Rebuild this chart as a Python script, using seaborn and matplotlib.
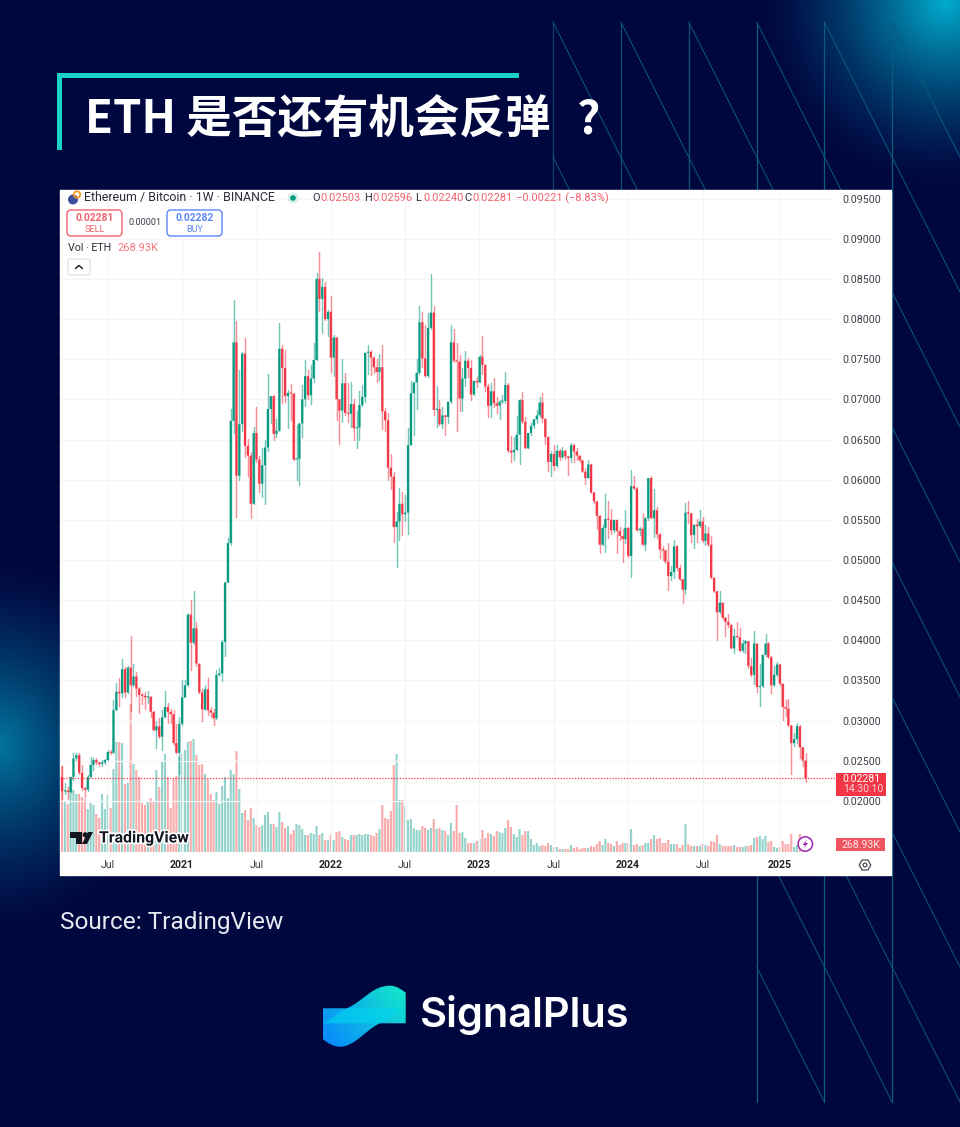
import numpy as np
import pandas as pd
import matplotlib
matplotlib.use("Agg")
import matplotlib.pyplot as plt
import matplotlib.patheffects as pe
from matplotlib.patches import Circle, FancyBboxPatch, PathPatch, Polygon, Rectangle
from matplotlib.path import Path
import seaborn as sns

# weekly ETH/BTC candles, in thousandths of a BTC
first_open = 23.0
closes = [
    21.2, 21.3, 21.1, 23.0, 25.3, 25.7, 23.5, 21.6, 21.4, 23.0,
    24.5, 25.1, 24.8, 24.6, 24.8, 25.1, 26.1, 26.0, 31.3, 33.6,
    33.4, 36.4, 33.5, 36.6, 34.4, 35.5, 34.0, 33.2, 33.1, 32.9,
    33.0, 31.1, 28.8, 29.3, 28.0, 30.4, 31.7, 31.1, 30.8, 27.2,
    26.0, 29.6, 32.9, 34.4, 43.2, 39.7, 41.5, 37.1, 33.5, 31.4,
    33.9, 31.3, 31.0, 30.3, 35.7, 35.9, 39.8, 47.2, 52.1, 67.3,
    77.1, 60.5, 66.9, 75.7, 64.2, 63.0, 57.0, 65.8, 62.5, 59.5,
    61.8, 64.0, 68.8, 70.4, 65.7, 66.1, 76.3, 73.9, 70.4, 70.8,
    70.7, 62.5, 62.6, 67.0, 70.0, 72.9, 70.5, 72.6, 74.9, 85.0,
    82.5, 84.0, 80.0, 80.9, 75.2, 77.7, 70.0, 68.6, 72.0, 68.3,
    68.2, 69.4, 66.4, 66.5, 69.3, 70.3, 75.8, 75.9, 75.2, 74.0,
    73.4, 74.0, 68.5, 67.4, 61.5, 60.4, 54.1, 54.8, 57.0, 55.7,
    55.9, 64.3, 70.75, 72.1, 73.3, 79.6, 75.1, 72.9, 78.9, 80.8,
    68.7, 68.8, 66.9, 68.0, 67.8, 69.7, 77.1, 74.8, 74.7, 70.1,
    72.6, 74.8, 73.9, 70.6, 72.3, 72.1, 75.3, 74.3, 71.6, 69.2,
    71.0, 69.5, 69.2, 69.7, 69.8, 71.8, 63.6, 63.4, 63.7, 65.6,
    69.9, 67.2, 63.9, 65.8, 66.7, 67.5, 68.0, 69.6, 67.6, 65.3,
    62.2, 63.2, 61.7, 63.6, 62.8, 63.6, 62.9, 62.7, 64.3, 63.5,
    63.0, 62.4, 61.0, 60.2, 61.9, 58.4, 57.3, 55.5, 51.9, 54.0,
    55.1, 55.0, 53.7, 55.0, 53.6, 53.0, 52.6, 54.0, 50.5, 59.2,
    58.9, 53.7, 53.9, 51.9, 55.2, 60.2, 55.2, 56.2, 53.2, 51.3,
    51.2, 49.8, 48.0, 48.5, 51.7, 49.0, 47.6, 46.3, 55.9, 55.8,
    53.1, 54.4, 54.2, 54.8, 52.4, 53.3, 51.9, 47.8, 46.1, 43.5,
    44.7, 42.8, 42.3, 41.9, 39.0, 40.5, 40.4, 38.7, 39.6, 39.9,
    36.8, 35.7, 39.6, 34.2, 34.3, 38.2, 39.6, 37.9, 34.4, 35.7,
    37.0, 34.6, 31.7, 31.5, 29.4, 27.2, 27.7, 29.3, 26.7, 25.03, 22.81,
]
highs = [
    24.3, 22.2, 21.8, 23.0, 26.0, 26.0, 26.0, 24.5, 21.8, 23.2,
    25.5, 25.4, 25.4, 24.9, 25.1, 25.2, 26.3, 26.3, 32.6, 34.7,
    35.3, 37.7, 36.7, 36.8, 40.5, 37.1, 36.1, 34.2, 33.4, 33.6,
    33.7, 32.9, 31.2, 30.0, 30.3, 31.3, 33.7, 32.2, 31.4, 31.3,
    29.6, 30.5, 35.0, 35.0, 43.4, 45.0, 46.2, 42.3, 37.1, 33.9,
    34.4, 35.3, 31.7, 31.4, 36.3, 36.5, 40.0, 47.3, 52.7, 68.8,
    82.4, 79.8, 73.7, 75.9, 77.6, 65.1, 63.5, 66.6, 69.1, 63.0,
    63.9, 65.0, 73.2, 70.4, 70.5, 67.6, 79.5, 76.8, 76.1, 71.2,
    71.9, 70.8, 66.8, 67.1, 71.8, 74.9, 73.7, 74.3, 77.0, 85.7,
    88.3, 85.1, 84.6, 81.1, 82.9, 78.0, 77.7, 70.0, 75.0, 73.3,
    72.0, 72.1, 70.0, 68.6, 71.0, 71.8, 75.8, 76.8, 76.2, 75.3,
    75.0, 75.7, 76.8, 68.9, 68.3, 63.2, 60.9, 56.0, 59.0, 58.5,
    58.1, 66.4, 72.3, 72.2, 75.0, 81.6, 80.9, 79.3, 80.8, 85.6,
    81.6, 71.7, 69.9, 69.1, 68.0, 69.7, 79.2, 78.8, 77.0, 75.5,
    73.9, 76.0, 75.2, 74.9, 72.3, 72.8, 75.5, 77.9, 74.3, 71.9,
    72.0, 72.6, 70.3, 69.9, 70.5, 73.4, 72.0, 65.4, 65.3, 67.9,
    70.0, 70.9, 67.8, 65.8, 67.0, 67.5, 68.7, 70.3, 70.8, 67.6,
    65.4, 63.6, 64.3, 64.3, 63.8, 64.1, 63.7, 63.0, 64.6, 64.4,
    64.0, 63.0, 62.4, 61.4, 62.4, 61.9, 58.5, 57.4, 55.6, 54.4,
    58.2, 57.3, 56.3, 55.0, 55.0, 54.1, 53.8, 56.2, 54.1, 61.2,
    60.5, 59.1, 54.1, 55.8, 55.3, 60.2, 60.4, 58.9, 56.6, 53.3,
    51.7, 51.2, 52.1, 49.3, 52.5, 51.9, 49.4, 47.6, 57.1, 57.4,
    55.8, 54.4, 55.1, 56.2, 55.3, 54.4, 54.1, 53.0, 47.8, 46.1,
    46.1, 44.7, 42.9, 43.3, 42.0, 41.4, 42.3, 41.5, 40.0, 40.0,
    39.8, 37.8, 41.1, 39.6, 37.1, 38.2, 40.8, 39.8, 38.0, 36.8,
    37.3, 37.0, 34.6, 32.6, 32.7, 29.4, 28.5, 29.7, 29.5, 26.7, 25.96,
]
lows = [
    20.3, 20.9, 20.3, 21.1, 22.6, 25.1, 23.4, 21.4, 20.5, 21.3,
    23.0, 23.9, 24.6, 24.3, 24.4, 24.6, 25.1, 25.9, 26.0, 31.3,
    31.8, 33.0, 32.9, 33.4, 31.2, 34.3, 33.1, 30.9, 32.1, 31.5,
    32.2, 30.4, 28.8, 26.6, 27.9, 26.3, 30.4, 29.7, 29.7, 27.0,
    26.0, 23.4, 29.5, 33.2, 34.3, 36.3, 39.6, 36.8, 33.4, 30.0,
    31.3, 30.7, 30.5, 29.4, 30.2, 35.5, 34.9, 38.0, 47.2, 51.9,
    65.8, 55.4, 59.9, 66.0, 62.8, 60.4, 55.2, 57.0, 62.2, 58.5,
    57.9, 57.0, 63.6, 67.0, 65.0, 65.3, 66.0, 69.5, 69.7, 66.4,
    67.4, 62.4, 60.0, 59.3, 65.3, 69.2, 70.0, 69.4, 72.2, 74.9,
    81.0, 78.3, 79.9, 77.9, 73.4, 72.9, 67.4, 64.4, 67.2, 68.0,
    67.2, 66.6, 65.0, 64.0, 65.0, 69.2, 69.7, 73.2, 73.0, 73.3,
    72.2, 72.4, 66.3, 66.1, 59.9, 58.9, 52.3, 49.1, 52.5, 53.1,
    54.8, 53.2, 64.3, 65.6, 68.8, 73.2, 74.0, 72.8, 72.8, 78.8,
    68.0, 66.6, 66.8, 66.4, 65.6, 67.1, 69.6, 74.7, 66.0, 68.5,
    68.6, 71.6, 72.8, 69.9, 70.5, 71.5, 72.1, 73.2, 71.0, 67.8,
    67.8, 69.1, 68.3, 67.6, 69.5, 69.6, 63.5, 62.2, 62.4, 63.7,
    62.0, 67.0, 63.9, 63.9, 65.6, 66.4, 67.0, 67.8, 67.2, 64.5,
    61.1, 60.5, 61.2, 61.6, 62.4, 62.7, 62.6, 60.6, 62.2, 62.2,
    62.4, 62.2, 61.0, 59.5, 60.2, 58.3, 57.1, 53.8, 50.9, 51.9,
    51.0, 52.7, 53.2, 53.5, 50.9, 52.5, 49.8, 52.1, 50.4, 47.9,
    58.8, 53.6, 53.1, 51.9, 51.2, 55.0, 55.2, 52.9, 52.8, 50.2,
    50.0, 49.6, 46.3, 47.5, 47.7, 48.8, 47.5, 44.7, 45.8, 54.6,
    52.3, 51.5, 52.2, 54.1, 52.3, 51.9, 51.7, 47.7, 46.0, 40.1,
    43.4, 42.7, 40.5, 41.7, 39.0, 38.4, 40.4, 38.7, 38.6, 38.4,
    36.6, 35.5, 34.6, 33.6, 31.8, 34.2, 38.0, 37.8, 33.4, 34.3,
    35.5, 34.4, 30.1, 30.6, 29.3, 23.4, 26.8, 27.2, 25.3, 24.3, 22.4,
]
# volume in units of 50K ETH
volumes = [
    86, 50, 48, 71, 62, 58, 58, 55, 53, 43,
    49, 47, 38, 34, 58, 43, 57, 44, 83, 110,
    110, 109, 68, 69, 148, 88, 82, 75, 49, 47,
    50, 54, 50, 82, 65, 91, 98, 75, 44, 74,
    76, 95, 99, 102, 110, 111, 113, 97, 87, 88,
    78, 73, 58, 52, 60, 48, 66, 75, 54, 82,
    78, 101, 63, 39, 42, 32, 44, 34, 27, 25,
    27, 37, 40, 28, 28, 25, 40, 30, 24, 26,
    18, 22, 28, 27, 23, 17, 17, 19, 18, 26,
    17, 19, 12, 12, 17, 12, 20, 21, 15, 13,
    12, 17, 17, 17, 18, 17, 18, 18, 17, 16,
    19, 23, 47, 34, 33, 41, 87, 98, 52, 52,
    46, 32, 33, 24, 22, 22, 26, 24, 22, 24,
    33, 23, 24, 22, 21, 17, 29, 21, 47, 19,
    20, 14, 9, 9, 9, 11, 13, 22, 14, 19,
    18, 16, 21, 20, 19, 24, 32, 25, 18, 15,
    23, 17, 21, 21, 13, 7, 9, 6, 7, 6,
    9, 7, 5, 5, 3, 3, 3, 3, 7, 4,
    5, 3, 4, 4, 4, 6, 5, 8, 11, 7,
    13, 9, 8, 6, 11, 7, 9, 9, 9, 23,
    7, 8, 6, 7, 9, 9, 13, 17, 13, 14,
    9, 9, 12, 8, 8, 8, 4, 7, 28, 8,
    6, 6, 6, 6, 8, 7, 6, 11, 10, 17,
    8, 6, 6, 6, 6, 7, 5, 5, 5, 6,
    6, 7, 14, 15, 16, 13, 16, 10, 11, 5,
    4, 5, 11, 8, 8, 18, 5, 7, 18, 5, 5.38,
]
price_ticks = [20, 25, 30, 35, 40, 45, 50, 55, 60, 65, 70, 75, 80, 85, 90, 95]
date_weeks = [16.1, 42, 68.2, 94, 120, 145.8, 172, 197.9, 224, 251]
date_labels = ["Jul", "2021", "Jul", "2022", "Jul", "2023", "Jul", "2024", "Jul", "2025"]
last_price = 22.81

W, H = 960, 1127
NAVY = "#00063E"
UP = "#089981"
DOWN = "#F23645"

sns.set_theme(style="white")
plt.rcParams["font.family"] = ["Roboto", "DejaVu Sans"]
TITLE_FONT = ["Noto Sans CJK SC", "DejaVu Sans"]

closes = np.array(closes)
opens = np.r_[first_open, closes[:-1]]
weeks = np.arange(len(closes))
side = np.where(closes >= opens, "up", "down")
candles = pd.DataFrame({
    "week": weeks,
    "open": opens / 1000,
    "close": closes / 1000,
    "high": np.maximum(highs, np.maximum(opens, closes)) / 1000,
    "low": np.minimum(lows, np.minimum(opens, closes)) / 1000,
    "volume": np.array(volumes) * 50,
    "side": side,
})
wicks = candles.melt(id_vars=["week", "side"], value_vars=["low", "high"], value_name="price")
wicks = wicks.sort_values(["week", "variable"])


def px_rect(left, top, right, bottom):
    return [left / W, 1 - bottom / H, (right - left) / W, (bottom - top) / H]


fig = plt.figure(figsize=(W / 100, H / 100), dpi=100, facecolor=NAVY)

# backdrop: glows, line pattern, white panel
bg = fig.add_axes([0, 0, 1, 1], zorder=0)
yy, xx = np.mgrid[0:H, 0:W]
navy = np.array([0, 6, 62]) / 255
glow_a = np.clip(1 - np.hypot(xx - 945, yy - 2) / 190, 0, 1) ** 1.5
glow_b = np.clip(1 - np.hypot((xx + 2) * 1.15, yy - 745) / 190, 0, 1) ** 1.4
rgb = navy + glow_a[..., None] * (np.array([0, 172, 206]) / 255 - navy)
rgb = rgb + glow_b[..., None] * (np.array([2, 118, 160]) / 255 - navy)
bg.imshow(np.clip(rgb, 0, 1), extent=(0, W, H, 0), aspect="auto", interpolation="bilinear")

columns = [553, 620.8, 688.7, 756.7, 824.4, 892, 960]
line_colors = ["#08456A", "#094C70", "#0A5474", "#0B5C7C", "#0B5C7C", "#0B5C7C"]
nodes = [22 + 135 * k for k in range(9)]
for c, x in enumerate(columns[:-1]):
    bottom = 1102 if c >= 3 else 860
    bg.plot([x, x], [22, bottom], color=line_colors[c], lw=0.9)
    for j in range(8):
        if c < 3 and j > 5:
            continue
        bg.plot([x, columns[c + 1]], [nodes[j], nodes[j + 1]], color="#0B5C7C", lw=0.7)
bg.add_patch(Rectangle((60, 190), 831, 685, color="white", zorder=3))
bg.set_xlim(0, W)
bg.set_ylim(H, 0)
bg.axis("off")

# volume pane sits behind the candles on the same x scale
vol_ax = fig.add_axes(px_rect(60, 190, 835, 852), zorder=1)
vol_ax.patch.set_alpha(0)
sns.barplot(
    data=candles, x="week", y="volume", hue="side", dodge=False, native_scale=True,
    palette={"up": "#93D3CC", "down": "#F9AAAA"}, saturation=1, width=0.74,
    errorbar=None, linewidth=0, legend=False, ax=vol_ax, zorder=2,
)
vol_ax.set_ylim(0, 662 * 50)
vol_ax.set_xlim(-0.7, 270.3)
vol_ax.axis("off")
for bar in vol_ax.patches:
    bar.set_snap(False)

ax = fig.add_axes(px_rect(60, 190, 835, 852), zorder=2)
ax.patch.set_alpha(0)
sns.lineplot(
    data=wicks, x="week", y="price", hue="side", units="week", estimator=None, sort=False,
    palette={"up": UP, "down": DOWN}, linewidth=1.05, alpha=0.55, legend=False, ax=ax, zorder=1,
)
for name, color in (("up", UP), ("down", DOWN)):
    part = candles[candles["side"] == name]
    body = (part["close"] - part["open"]).abs().clip(lower=0.00014)
    sns.barplot(
        x=part["week"].to_numpy(), y=body.to_numpy(),
        bottom=part[["open", "close"]].min(axis=1).to_numpy(),
        native_scale=True, color=color, saturation=1, width=0.78,
        errorbar=None, linewidth=0, ax=ax, zorder=2,
    )
for bar in ax.patches:
    bar.set_snap(False)
ax.axhline(last_price / 1000, color=DOWN, lw=0.9, ls=(0, (1, 1.3)), zorder=3)

ax.set_xlim(-0.7, 270.3)
ax.set_ylim(0.01365, 0.09606)
ax.set_xlabel("")
ax.set_ylabel("")
ax.yaxis.tick_right()
ax.set_yticks([t / 1000 for t in price_ticks])
ax.set_yticklabels([f"{t / 1000:.5f}" for t in price_ticks], fontsize=7.7, color="#3A3D47")
ax.set_xticks(date_weeks)
ax.set_xticklabels(date_labels, fontsize=7.6, color="#3A3D47")
for label in ax.get_xticklabels():
    if label.get_text() != "Jul":
        label.set_fontweight("bold")
        label.set_color("#22242C")
ax.tick_params(axis="y", length=0, pad=5)
ax.tick_params(axis="x", length=0, pad=6)
ax.grid(True, color="#F4F5F7", lw=0.9)
ax.set_axisbelow(True)
sns.despine(ax=ax, left=True, right=True, top=True, bottom=True)

# titles, TradingView furniture and logo on a pixel-coordinate layer
ov = fig.add_axes([0, 0, 1, 1], zorder=3)
ov.patch.set_alpha(0)
ov.axis("off")

TEAL = "#1CD2C6"
ov.add_patch(Rectangle((57, 73), 462, 4.5, color=TEAL, lw=0))
ov.add_patch(Rectangle((57, 73), 5, 77, color=TEAL, lw=0))
ov.text(85, 134, "ETH 是否还有机会反弹", color="white", fontsize=32.8, fontweight="bold",
        family=TITLE_FONT, va="baseline", ha="left")
ov.text(589, 134, "?", color="white", fontsize=33, fontweight="bold",
        family=TITLE_FONT, va="baseline", ha="center")
ov.text(60, 922, "Source: TradingView", color="#E8EAF2", fontsize=17.6, va="center", ha="left")

# chart header
ov.add_patch(Circle((73, 199.5), 5, color="#3D4F9F", lw=0))
ov.add_patch(Circle((77, 194.5), 3.2, fc="none", ec="#F59A23", lw=1.3))
ov.text(84, 198, "Ethereum / Bitcoin · 1W · BINANCE", fontsize=8.95, color="#2A2E39", va="center")
ov.add_patch(Circle((293, 198), 5.5, color="#D5EEEA", lw=0))
ov.add_patch(Circle((293, 198), 2.8, color=UP, lw=0))
for x, key, value in [(312, "O", "0.02503"), (364, "H", "0.02596"), (415, "L", "0.02240"), (464, "C", "0.02281")]:
    ov.text(x, 198, key, fontsize=7.9, color="#2A2E39", va="center")
    ov.text(x + 8, 198, value, fontsize=7.9, color="#F4616D", va="center")
ov.text(516, 198, "−0.00221 (−8.83%)", fontsize=7.9, color="#F4616D", va="center")

for left, edge, price, word in [(67, "#F4616D", "0.02281", "SELL"), (167, "#5B87F7", "0.02282", "BUY")]:
    ov.add_patch(FancyBboxPatch((left, 210), 55, 26, boxstyle="round,pad=0,rounding_size=4",
                                fc="white", ec=edge, lw=1))
    ov.text(left + 27.5, 218, price, fontsize=7.4, fontweight="bold", color=edge, ha="center", va="center")
    ov.text(left + 27.5, 229, word, fontsize=6.6, color=edge, ha="center", va="center")
ov.text(145, 222.5, "0.00001", fontsize=6.6, color="#3A3D47", ha="center", va="center")
ov.text(68, 248, "Vol · ETH", fontsize=7.7, color="#2A2E39", va="center")
ov.text(117, 248, "268.93K", fontsize=7.9, color="#F4757F", va="center")
ov.add_patch(FancyBboxPatch((68, 259), 22, 16, boxstyle="round,pad=0,rounding_size=2",
                            fc="white", ec="#E0E3EB", lw=0.9))
ov.plot([75.5, 79, 82.5], [268.5, 265.5, 268.5], color="#131722", lw=1)

# TradingView watermark
halo = [pe.withStroke(linewidth=2.4, foreground="white")]
logo_t = Polygon([(70, 832), (82, 832), (82, 844), (76, 844), (76, 838), (70, 838)], color="#131722", lw=0)
logo_s = Polygon([(88, 832), (93, 832), (87, 844), (82, 844)], color="#131722", lw=0)
ov.add_patch(logo_t)
ov.add_patch(logo_s)
ov.add_patch(Circle((85.2, 834.8), 2.6, color="#131722", lw=0))
ov.text(99, 838, "TradingView", fontsize=11.4, fontweight="bold", color="#131722",
        va="center", path_effects=halo)

# price tags
ov.add_patch(Rectangle((835.5, 772.5), 50.5, 23, color="#F23645", lw=0))
ov.text(861, 778.5, "0.02281", fontsize=7.6, color="white", ha="center", va="center")
ov.text(863, 789.5, "14:30:10", fontsize=7.6, color="#FBD0D4", ha="center", va="center")
ov.add_patch(Rectangle((836, 838), 49, 13, color="#F0555F", lw=0))
ov.text(861, 844.5, "268.93K", fontsize=7.6, color="#FCE3E5", ha="center", va="center")

# lightning badge and settings hexagon
ov.add_patch(Circle((805.3, 844), 7.2, fc="white", ec="#9C27B0", lw=1.1))
ov.add_patch(Polygon([(807, 839.5), (802.5, 845), (805, 845), (803.8, 848.5), (808, 843), (805.5, 843)],
                     color="#9C27B0", lw=0))
hex_angle = np.deg2rad(np.arange(30, 390, 60))
ov.add_patch(Polygon(np.c_[865 + 5.8 * np.sin(hex_angle), 865 + 5.8 * np.cos(hex_angle)],
                     fc="white", ec="#4A4D57", lw=0.9))
ov.add_patch(Circle((865, 865), 1.9, fc="white", ec="#4A4D57", lw=0.9))

# SignalPlus mark
mark = Path(
    [(323, 1008.3), (347, 1008.3), (365, 1000), (372, 985.7), (390, 985.7),
     (397, 985.7), (402, 990), (405.7, 992.7), (405.7, 1023.3), (380, 1023.3),
     (365, 1030), (355, 1046.7), (340, 1046.7), (333, 1046.7), (328, 1043),
     (323, 1039.3), (323, 1008.3)],
    [Path.MOVETO, Path.LINETO, Path.CURVE4, Path.CURVE4, Path.CURVE4,
     Path.CURVE4, Path.CURVE4, Path.CURVE4, Path.LINETO, Path.LINETO,
     Path.CURVE4, Path.CURVE4, Path.CURVE4, Path.CURVE4, Path.CURVE4,
     Path.CURVE4, Path.CLOSEPOLY],
)
gy, gx = np.mgrid[985:1047, 323:406]
blend = np.clip(((gx - 323) / 83 * 0.62 + (1047 - gy) / 62 * 0.38), 0, 1)[..., None]
shade = (np.array([8, 132, 255]) * (1 - blend) + np.array([20, 236, 200]) * blend) / 255
image = ov.imshow(shade, extent=(323, 406, 1047, 985), aspect="auto")
image.set_clip_path(PathPatch(mark, transform=ov.transData))
ov.add_patch(Polygon([(323, 1023.3), (347, 1008.3), (405.7, 1008.3), (380, 1023.3)],
                     color="#00D8F0", alpha=0.55, lw=0))
ov.text(420, 1015, "SignalPlus", fontsize=30, fontweight="semibold", color="white",
        family=["Inter", "DejaVu Sans"], va="center", ha="left")

ov.set_xlim(0, W)
ov.set_ylim(H, 0)

fig.savefig("out.png", dpi=100, facecolor=NAVY)
